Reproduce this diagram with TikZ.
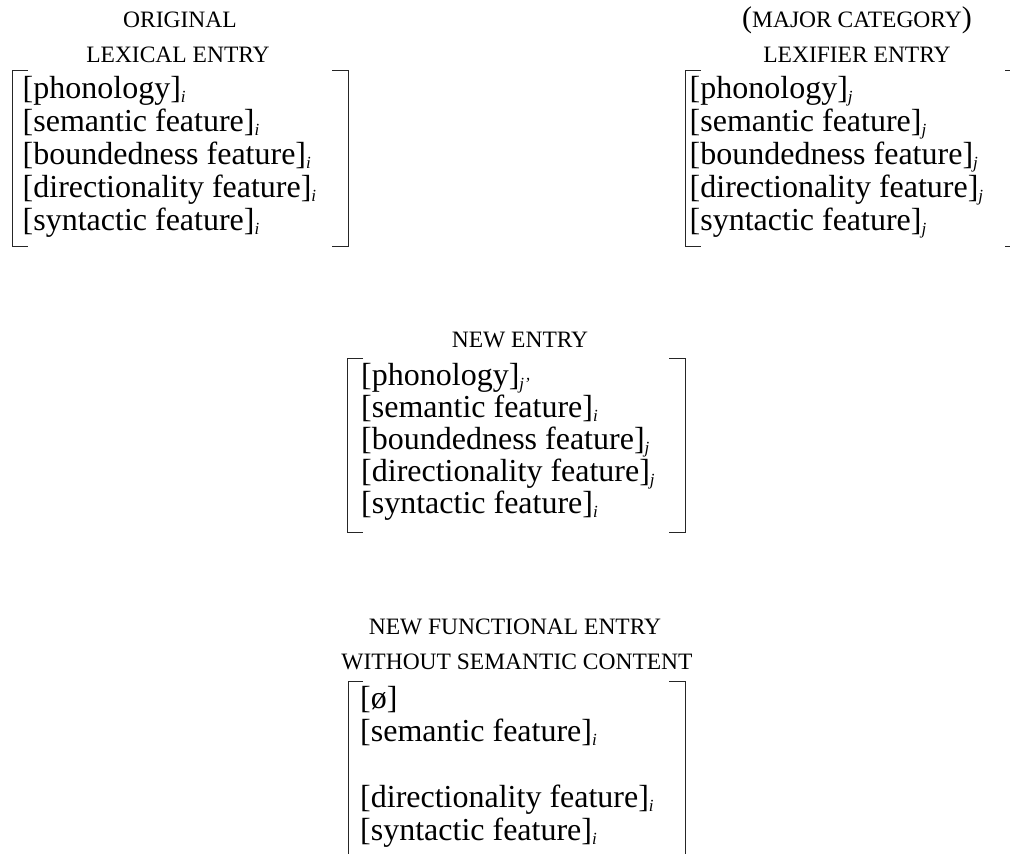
\documentclass[tikz,border=0pt]{standalone}
\usepackage{fontspec}
\setmainfont{Liberation Serif}
\newcommand{\idx}[1]{\raisebox{-4pt}{\fontsize{17}{17}\selectfont\itshape #1}}
\newcommand{\bigpar}[1]{{\fontsize{30}{30}\selectfont #1}}
\tikzset{
    feat/.style={anchor=base west, inner sep=0pt, font=\fontsize{32}{33}\selectfont},
    head/.style={anchor=base, inner sep=0pt, font=\fontsize{23.5}{25}\selectfont},
    brack/.style={line width=0.9pt, draw=black!85}
}

\begin{document}
\begin{tikzpicture}[x=1pt,y=-1pt]
\clip (0,0) rectangle (1010,854);

% original lexical entry
\node[head] (orighd) at (180,27.5) {ORIGINAL};
\node[head] (orighdb) at (178,62.5) {LEXICAL ENTRY};
\foreach \t [count=\n] in {{[phonology]\idx{i}},{[semantic feature]\idx{i}},{[boundedness feature]\idx{i}},{[directionality feature]\idx{i}},{[syntactic feature]\idx{i}}}
    \node[feat] (orig\n) at (22.5,{98+33*(\n-1)}) {\t};
\draw[brack] (28,70) -- (12,70) -- (12,246) -- (28,246);
\draw[brack] (332,70) -- (348,70) -- (348,246) -- (332,246);

% lexifier entry
\node[head] (lexhd) at (857,27.5) {\bigpar{(}MAJOR CATEGORY\bigpar{)}};
\node[head] (lexhdb) at (857,62.5) {LEXIFIER ENTRY};
\foreach \t [count=\n] in {{[phonology]\idx{j}},{[semantic feature]\idx{j}},{[boundedness feature]\idx{j}},{[directionality feature]\idx{j}},{[syntactic feature]\idx{j}}}
    \node[feat] (lex\n) at (689.5,{98+33*(\n-1)}) {\t};
\draw[brack] (701,70) -- (685,70) -- (685,246) -- (701,246);
\draw[brack] (1005,70) -- (1021,70) -- (1021,246) -- (1005,246);

% new entry
\node[head] (newhd) at (520,347) {NEW ENTRY};
\foreach \t [count=\n] in {{[phonology]\idx{j’}},{[semantic feature]\idx{i}},{[boundedness feature]\idx{j}},{[directionality feature]\idx{j}},{[syntactic feature]\idx{i}}}
    \node[feat] (new\n) at (361,{385+32*(\n-1)}) {\t};
\draw[brack] (363,358) -- (347,358) -- (347,532) -- (363,532);
\draw[brack] (669,358) -- (685,358) -- (685,532) -- (669,532);

% new functional entry
\node[head] (funhd) at (515,634.5) {NEW FUNCTIONAL ENTRY};
\node[head] (funhdb) at (517,669.5) {WITHOUT SEMANTIC CONTENT};
\node[feat] (fun1) at (360,708) {[ø]};
\node[feat] (fun2) at (360,741) {[semantic feature]\idx{i}};
\node[feat] (fun4) at (360,807) {[directionality feature]\idx{i}};
\node[feat] (fun5) at (360,840) {[syntactic feature]\idx{i}};
\draw[brack] (363,681) -- (348,681) -- (348,880) -- (363,880);
\draw[brack] (669,681) -- (685,681) -- (685,880) -- (669,880);
\end{tikzpicture}
\end{document}
